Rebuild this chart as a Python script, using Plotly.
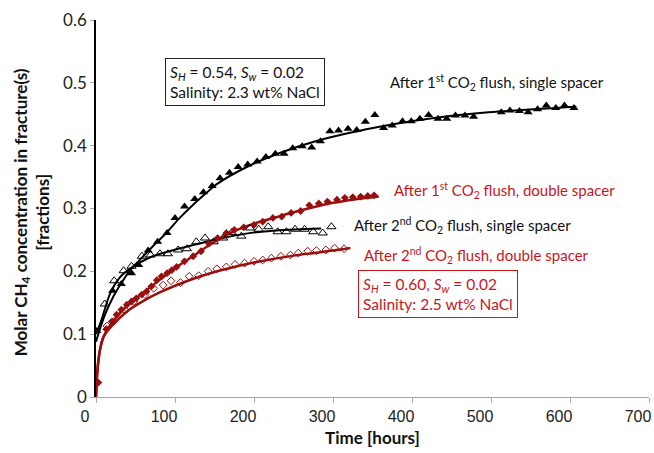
import plotly.graph_objects as go

# ---- data ----
# After 1st CO2 flush, single spacer (filled triangles)
t1 = [1, 21, 32, 45, 54, 66, 78, 90, 100, 112, 125, 136, 147, 157, 169, 180, 192, 204, 215, 227,
      238, 249, 261, 273, 284, 296, 307, 319, 330, 341, 353, 364, 375, 388, 399, 410, 421, 433, 444,
      455, 467, 478, 513, 524, 536, 547, 559, 570, 582, 593, 605]
v1 = [0.105, 0.169, 0.180, 0.197, 0.210, 0.233, 0.247, 0.261, 0.285, 0.303, 0.315, 0.326, 0.336, 0.348,
      0.357, 0.366, 0.370, 0.375, 0.382, 0.387, 0.387, 0.396, 0.399, 0.397, 0.407, 0.423, 0.424, 0.427,
      0.425, 0.438, 0.449, 0.428, 0.432, 0.439, 0.439, 0.443, 0.449, 0.443, 0.443, 0.448, 0.448, 0.446,
      0.453, 0.456, 0.455, 0.453, 0.458, 0.464, 0.460, 0.464, 0.460]
fit1_t = [0, 11, 22, 33, 44, 56, 72, 89, 106, 123, 140, 152, 194, 236, 278, 320, 362, 421, 497, 608]
fit1_v = [0.088, 0.130, 0.160, 0.183, 0.203, 0.219, 0.240, 0.261, 0.285, 0.306, 0.325, 0.338, 0.368,
          0.390, 0.407, 0.420, 0.431, 0.443, 0.453, 0.462]

# After 2nd CO2 flush, single spacer (open triangles)
t2 = [11, 23, 35, 45, 58, 69, 81, 91, 104, 115, 127, 138, 149, 161, 172, 184, 195, 206, 218, 230,
      241, 252, 264, 275, 287, 298]
v2 = [0.148, 0.185, 0.201, 0.208, 0.224, 0.226, 0.228, 0.228, 0.234, 0.236, 0.247, 0.253, 0.247, 0.253,
      0.262, 0.256, 0.269, 0.267, 0.271, 0.263, 0.263, 0.267, 0.267, 0.263, 0.261, 0.271]
fit2_t = [0, 7, 18, 30, 44, 68, 93, 123, 156, 190, 228, 285]
fit2_v = [0.100, 0.123, 0.165, 0.190, 0.205, 0.222, 0.232, 0.242, 0.252, 0.260, 0.265, 0.268]

# After 1st CO2 flush, double spacer (filled red diamonds)
t3 = [3, 13, 20, 26, 32, 39, 45, 51, 58, 64, 70, 77, 83, 90, 96, 102, 112, 123, 133, 143, 154, 165,
      175, 187, 200, 211, 224, 235, 247, 259, 270, 282, 293, 305, 315, 325, 335, 344, 352]
v3 = [0.023, 0.108, 0.120, 0.131, 0.139, 0.147, 0.152, 0.157, 0.163, 0.168, 0.176, 0.186, 0.192, 0.197,
      0.202, 0.207, 0.216, 0.224, 0.232, 0.244, 0.253, 0.261, 0.266, 0.270, 0.274, 0.279, 0.285, 0.287,
      0.293, 0.296, 0.305, 0.308, 0.311, 0.314, 0.317, 0.318, 0.319, 0.320, 0.321]
fit3_t = [0, 2, 5, 10, 20, 40, 60, 80, 100, 125, 150, 175, 200, 225, 250, 275, 300, 325, 358]
fit3_v = [0.0, 0.045, 0.075, 0.097, 0.118, 0.146, 0.166, 0.186, 0.205, 0.226, 0.247, 0.264, 0.276,
          0.285, 0.294, 0.302, 0.309, 0.314, 0.319]

# After 2nd CO2 flush, double spacer (open red diamonds)
t4 = [14, 22, 37, 48, 62, 73, 85, 95, 107, 118, 130, 142, 153, 165, 176, 188, 200, 211, 222, 234,
      246, 256, 268, 279, 291, 302, 314]
v4 = [0.113, 0.120, 0.138, 0.152, 0.163, 0.173, 0.178, 0.185, 0.182, 0.192, 0.193, 0.200, 0.204, 0.207,
      0.211, 0.213, 0.216, 0.218, 0.221, 0.224, 0.226, 0.229, 0.232, 0.233, 0.234, 0.237, 0.236]
fit4_t = [0, 2, 5, 10, 20, 40, 60, 80, 100, 125, 150, 175, 200, 250, 300, 322]
fit4_v = [0.0, 0.045, 0.075, 0.097, 0.113, 0.137, 0.153, 0.166, 0.177, 0.189, 0.199, 0.207, 0.214,
          0.225, 0.233, 0.237]

x_ticks = [0, 100, 200, 300, 400, 500, 600, 700]
y_ticks = [0, 0.1, 0.2, 0.3, 0.4, 0.5, 0.6]

BLACK = "#000000"
DRED = "#9A0E0E"
TRED = "#C8161D"
SANS = "Lato, 'Open Sans', sans-serif"

fig = go.Figure()

# fit lines
fig.add_trace(go.Scatter(x=fit1_t, y=fit1_v, mode="lines", line=dict(color=BLACK, width=2, shape="spline"), showlegend=False))
fig.add_trace(go.Scatter(x=fit2_t, y=fit2_v, mode="lines", line=dict(color=BLACK, width=2, shape="spline"), showlegend=False))
fig.add_trace(go.Scatter(x=fit3_t, y=fit3_v, mode="lines", line=dict(color=DRED, width=2.5, shape="spline"), showlegend=False))
fig.add_trace(go.Scatter(x=fit4_t, y=fit4_v, mode="lines", line=dict(color=DRED, width=2.5, shape="spline"), showlegend=False))

# data markers
fig.add_trace(go.Scatter(x=t1, y=v1, mode="markers",
                         marker=dict(symbol="triangle-up", size=8, color=BLACK), showlegend=False))
fig.add_trace(go.Scatter(x=t2, y=v2, mode="markers",
                         marker=dict(symbol="triangle-up-open", size=8, color=BLACK, line=dict(width=1)), showlegend=False))
fig.add_trace(go.Scatter(x=t3, y=v3, mode="markers",
                         marker=dict(symbol="diamond", size=6, color=DRED), showlegend=False))
fig.add_trace(go.Scatter(x=t4, y=v4, mode="markers",
                         marker=dict(symbol="diamond-open", size=6, color=DRED, line=dict(width=1)), showlegend=False))

lab_font = dict(family=SANS, size=15)
box_font = dict(family=SANS, size=15.5)
annotations = [
    dict(x=369.5, y=0.50, text="After 1<sup>st</sup> CO<sub>2</sub> flush, single spacer",
         xanchor="left", yanchor="middle", showarrow=False, font=dict(lab_font, color="#111111")),
    dict(x=374.5, y=0.328, text="After 1<sup>st</sup> CO<sub>2</sub> flush, double spacer",
         xanchor="left", yanchor="middle", showarrow=False, font=dict(lab_font, color=TRED)),
    dict(x=324, y=0.2725, text="After 2<sup>nd</sup> CO<sub>2</sub> flush, single spacer",
         xanchor="left", yanchor="middle", showarrow=False, font=dict(lab_font, color="#111111")),
    dict(x=336.7, y=0.226, text="After 2<sup>nd</sup> CO<sub>2</sub> flush, double spacer",
         xanchor="left", yanchor="middle", showarrow=False, font=dict(lab_font, color=TRED)),
    dict(x=188.5, y=0.502,
         text="<i>S</i><sub><i>H</i></sub> = 0.54, <i>S</i><sub><i>w</i></sub> = 0.02<br>Salinity: 2.3 wt% NaCl",
         xanchor="center", yanchor="middle", showarrow=False, align="left",
         bordercolor="#222222", borderwidth=1, borderpad=4, bgcolor="white",
         font=dict(box_font, color="#111111")),
    dict(x=432.5, y=0.164,
         text="<i>S</i><sub><i>H</i></sub> = 0.60, <i>S</i><sub><i>w</i></sub> = 0.02<br>Salinity: 2.5 wt% NaCl",
         xanchor="center", yanchor="middle", showarrow=False, align="left",
         bordercolor=TRED, borderwidth=1, borderpad=4, bgcolor="white",
         font=dict(box_font, color=TRED)),
    dict(xref="paper", yref="paper", x=0, y=0.49, xshift=-65,
         text="<b>Molar CH<sub>4</sub> concentration in fracture(s)<br>[fractions]</b>",
         textangle=-90, showarrow=False, xanchor="center", yanchor="middle",
         font=dict(family=SANS, size=17, color="#111111")),
]

fig.update_layout(
    width=654, height=453,
    margin=dict(l=96, r=3, t=20, b=56),
    paper_bgcolor="white", plot_bgcolor="white",
    annotations=annotations,
    xaxis=dict(range=[0, 700], tickvals=x_ticks, showgrid=False, zeroline=False,
               showline=True, linecolor="#A6A6A6", linewidth=1,
               ticks="outside", ticklen=5, tickcolor="#A6A6A6",
               ticklabelshift=-11,
               tickfont=dict(family="Liberation Sans, Arial", size=16, color="#222222"),
               title=dict(text="<b>Time [hours]</b>", font=dict(family=SANS, size=17, color="#111111"), standoff=7)),
    yaxis=dict(range=[0, 0.6], tickvals=y_ticks, showgrid=False, zeroline=False,
               showline=True, linecolor=BLACK, linewidth=1.5,
               ticks="outside", ticklen=4, tickcolor="#A6A6A6",
               tickfont=dict(family=SANS, size=17, color="#222222")),
)

fig.write_html("out.html")
